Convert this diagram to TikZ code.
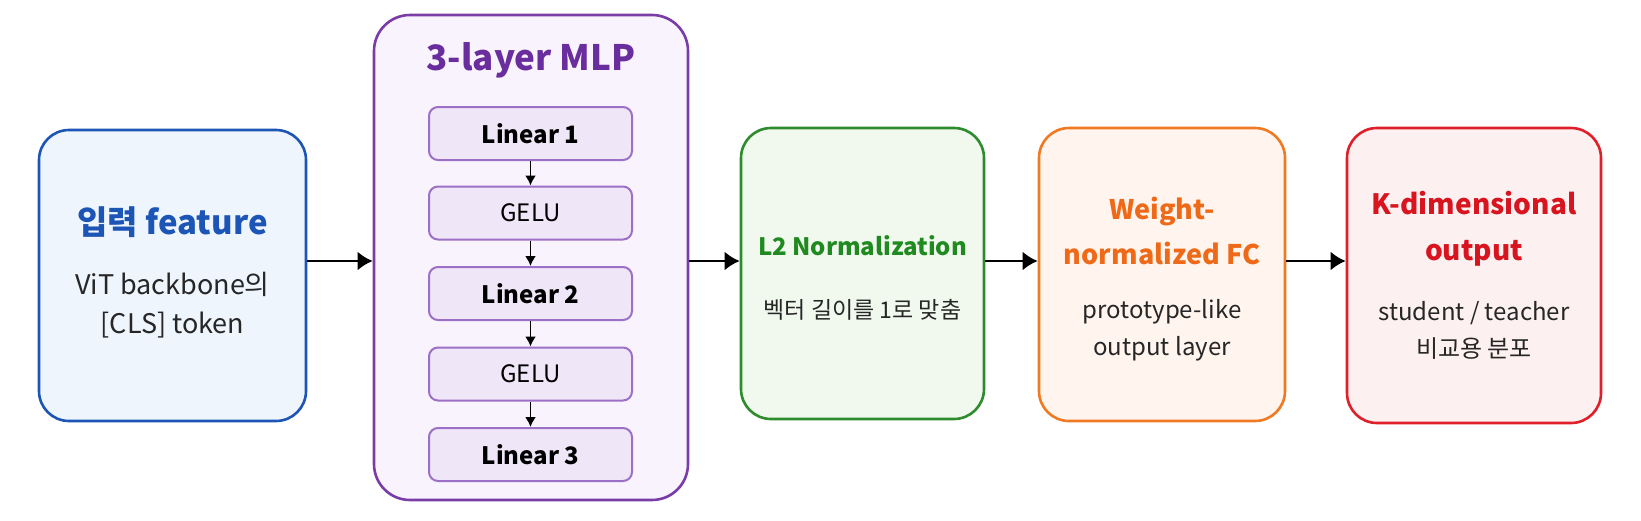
\documentclass[tikz,border=0pt]{standalone}
\usepackage{fontspec}
\setmainfont{Noto Sans CJK KR}
\usetikzlibrary{arrows.meta}

\definecolor{bluebd}{HTML}{1C55B5}
\definecolor{bluebg}{HTML}{EEF5FD}
\definecolor{purpbd}{HTML}{7A3DA8}
\definecolor{purptx}{HTML}{6A2D9E}
\definecolor{purpbg}{HTML}{F8F3FC}
\definecolor{cellbd}{HTML}{9C70C6}
\definecolor{cellbg}{HTML}{EFE6F8}
\definecolor{grnbd}{HTML}{2E8B2E}
\definecolor{grntx}{HTML}{1F8A1F}
\definecolor{grnbg}{HTML}{F1F9EE}
\definecolor{orgbd}{HTML}{F07A22}
\definecolor{orgtx}{HTML}{EE6A18}
\definecolor{orgbg}{HTML}{FFF5EE}
\definecolor{redbd}{HTML}{DF1F2A}
\definecolor{redtx}{HTML}{D8141F}
\definecolor{redbg}{HTML}{FDF0F0}

\tikzset{
  stage/.style={draw, line width=2.6pt, rounded corners=30pt, inner sep=0pt},
  cell/.style={draw=cellbd, fill=cellbg, line width=2pt, rounded corners=9pt, minimum width=203pt, minimum height=53pt, font=\fontsize{24}{28}\selectfont},
  boldcell/.style={cell, font=\fontsize{24}{28}\selectfont\bfseries},
  head/.style={font=\fontsize{33}{40}\selectfont\bfseries},
  note/.style={font=\fontsize{27}{39}\selectfont, align=center, text=black!85},
  arr/.style={line width=2.8pt, -{Latex[length=15pt,width=19pt]}},
  sarr/.style={line width=1.8pt, -{Latex[length=10pt,width=11pt]}}
}

\begin{document}
\begin{tikzpicture}[x=1pt,y=-1pt]
\useasboundingbox (0,0) rectangle (1641,520);
\fill[white] (0,0) rectangle (1641,520);

\node[stage, draw=bluebd, fill=bluebg, minimum width=267pt, minimum height=291pt] (in) at (172.5,275.5) {};
\node[stage, draw=purpbd, fill=purpbg, minimum width=314pt, minimum height=485pt, rounded corners=36pt] (mlp) at (531,257.5) {};
\node[stage, draw=grnbd, fill=grnbg, minimum width=243pt, minimum height=291pt] (l2) at (862.5,273.5) {};
\node[stage, draw=orgbd, fill=orgbg, minimum width=246pt, minimum height=293pt] (wfc) at (1162,274.5) {};
\node[stage, draw=redbd, fill=redbg, minimum width=254pt, minimum height=295pt] (kout) at (1474,275.5) {};

\node[head, text=bluebd] (inT) at (172.5,222) {입력 feature};
\node[note] (inN) at (172.5,305) {ViT backbone의\\{[CLS]} token};

\node[head, text=purptx, font=\fontsize{35}{42}\selectfont\bfseries] (mlpT) at (531,60) {3-layer MLP};
\node[boldcell] (lin1) at (530.5,133.5) {Linear 1};
\node[cell] (gelu1) at (530.5,213) {GELU};
\node[boldcell] (lin2) at (530.5,293.5) {Linear 2};
\node[cell] (gelu2) at (530.5,374) {GELU};
\node[boldcell] (lin3) at (530.5,454.5) {Linear 3};
\draw[sarr] (lin1) -- (gelu1);
\draw[sarr] (gelu1) -- (lin2);
\draw[sarr] (lin2) -- (gelu2);
\draw[sarr] (gelu2) -- (lin3);

\node[head, text=grntx, font=\fontsize{24}{30}\selectfont\bfseries] (l2T) at (862.5,246) {L2 Normalization};
\node[note, font=\fontsize{23}{28}\selectfont] (l2N) at (862.5,310) {벡터 길이를 1로 맞춤};

\node[head, text=orgtx, align=center, font=\fontsize{27}{45}\selectfont\bfseries] (wfcT) at (1162,231) {Weight-\\normalized FC};
\node[note, font=\fontsize{24}{37}\selectfont] (wfcN) at (1162,330) {prototype-like\\output layer};

\node[head, text=redtx, align=center, font=\fontsize{28}{46}\selectfont\bfseries] (koutT) at (1474,229) {K-dimensional\\output};
\node[note, font=\fontsize{24}{37}\selectfont] (koutN) at (1474,330) {student / teacher\\비교용 분포};

\draw[arr] (in.east |- 0,261) -- (mlp.west |- 0,261);
\draw[arr] (mlp.east |- 0,261) -- (l2.west |- 0,261);
\draw[arr] (l2.east |- 0,261) -- (wfc.west |- 0,261);
\draw[arr] (wfc.east |- 0,261) -- (kout.west |- 0,261);
\end{tikzpicture}
\end{document}
